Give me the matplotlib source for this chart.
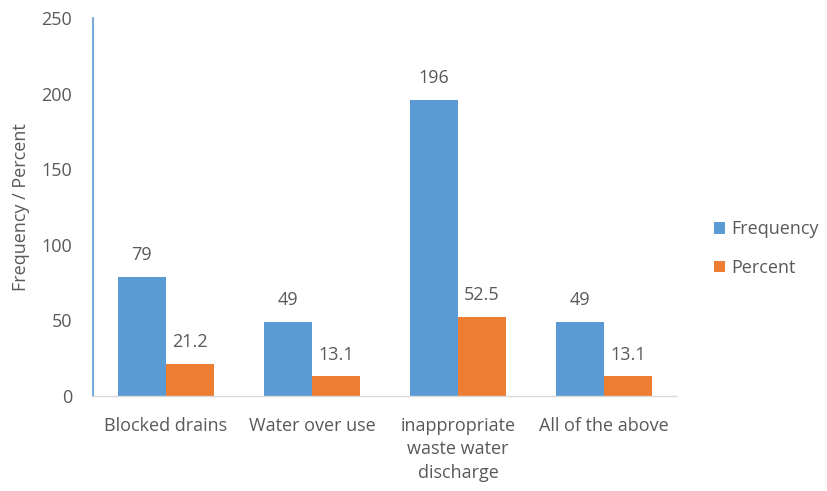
import matplotlib.pyplot as plt
import numpy as np

categories = ["Blocked drains", "Water over use", "inappropriate\nwaste water\ndischarge", "All of the above"]
frequency = [79, 49, 196, 49]
percent = [21.2, 13.1, 52.5, 13.1]
yticks = [0, 50, 100, 150, 200, 250]

blue = "#5B9BD5"
orange = "#ED7D31"
text_col = "#595959"
fs = 13

plt.rcParams['font.family'] = ['Open Sans', 'DejaVu Sans']

fig = plt.figure(figsize=(8.27, 4.91), dpi=100)
ax = fig.add_axes([0.1125, 0.1935, 0.706, 0.770])

x = np.arange(len(categories))
w = 0.33
b1 = ax.bar(x - w / 2, frequency, w, color=blue, label="Frequency")
b2 = ax.bar(x + w / 2, percent, w, color=orange, label="Percent")

for bars, vals in ((b1, frequency), (b2, percent)):
    for rect, v in zip(bars, vals):
        ax.annotate(f"{v:g}", (rect.get_x() + rect.get_width() / 2, v),
                    xytext=(0, 9), textcoords="offset points",
                    ha="center", va="bottom", fontsize=fs, color=text_col)

ax.set_xlim(-0.5, len(categories) - 0.5)
ax.set_ylim(0, 250)
ax.set_yticks(yticks)
ax.set_xticks(x)
ax.set_xticklabels(categories, linespacing=1.4, va="top")
ax.tick_params(axis="both", length=0, labelsize=fs, colors=text_col)
ax.tick_params(axis="x", pad=15)
ax.tick_params(axis="y", pad=15)

for s in ("top", "right"):
    ax.spines[s].set_visible(False)
ax.spines["left"].set_color(blue)
ax.spines["left"].set_linewidth(1.2)
ax.spines["bottom"].set_color("#D9D9D9")
ax.spines["bottom"].set_linewidth(1.0)

ax.set_ylabel("Frequency / Percent", fontsize=fs, color=text_col, labelpad=8)

ax.legend(loc="center left", bbox_to_anchor=(1.036, 0.39), frameon=False,
          fontsize=fs, labelcolor=text_col, handlelength=0.6, handleheight=0.6,
          handletextpad=0.35, labelspacing=1.15)

fig.savefig("out.png", dpi=100)
